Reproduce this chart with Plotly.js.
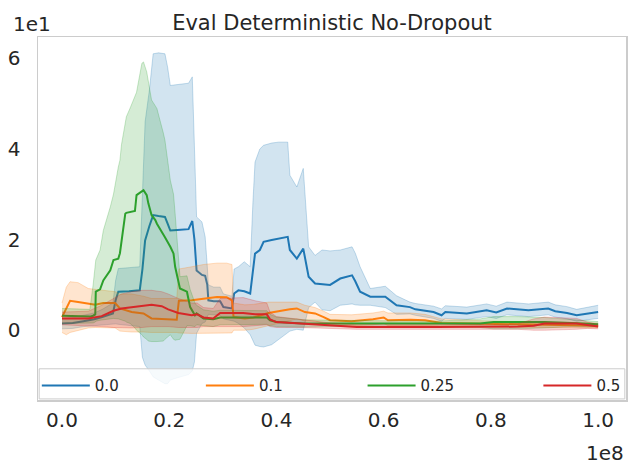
<!DOCTYPE html>
<html>
<head>
<meta charset="utf-8">
<script src="https://cdn.plot.ly/plotly-3.0.1.min.js"></script>
<style>
  body { margin: 0; background: #fff; }
  #chart { width: 635px; height: 474px; }
</style>
</head>
<body>
<div id="chart"></div>
<script>
// x in units of 1e8 steps, y in raw units (axis shows 1e1)
const stepsA = [0.000, 0.020, 0.040, 0.060, 0.075, 0.095, 0.100, 0.105, 0.125, 0.145,
	0.150, 0.155, 0.163, 0.170, 0.180, 0.192, 0.197, 0.202, 0.215, 0.236,
	0.243, 0.247, 0.251, 0.261, 0.267, 0.271, 0.273, 0.283, 0.295, 0.301,
	0.317, 0.321, 0.329, 0.340, 0.351, 0.356, 0.360, 0.369, 0.376, 0.391,
	0.404, 0.421, 0.425, 0.438, 0.450, 0.460, 0.472, 0.485, 0.500, 0.519,
	0.541, 0.547, 0.556, 0.575, 0.603, 0.624, 0.649, 0.659, 0.693, 0.708,
	0.715, 0.755, 0.792, 0.810, 0.830, 0.870, 0.907, 0.920, 0.942, 0.960,
	0.980, 1.000];
const meanA = [1.5, 1.6, 2.0, 2.4, 2.9, 3.7, 6.6, 8.5, 8.6, 8.8,
	13.5, 19.8, 23.0, 25.4, 25.2, 25.0, 23.5, 22.0, 22.1, 22.3,
	24.1, 20.0, 13.2, 12.2, 12.0, 10.0, 6.6, 6.4, 6.4, 5.1,
	4.8, 8.1, 8.8, 8.6, 8.1, 13.0, 16.9, 17.7, 19.5, 19.9,
	20.2, 20.6, 17.7, 15.8, 18.0, 11.8, 10.3, 10.2, 10.0, 11.4,
	12.1, 10.8, 8.5, 7.4, 7.4, 5.5, 5.1, 4.6, 4.0, 3.3,
	4.0, 3.7, 4.4, 3.9, 4.8, 4.4, 4.8, 4.2, 3.8, 3.3,
	3.6, 4.0];
const lowA = [0.3, 0.4, 0.8, 1.0, 1.2, 1.5, 1.4, 1.3, 1.1, 0.8,
	-6.0, -7.7, -9.0, -10.3, -11.0, -11.8, -11.8, -11.0, -10.5, -9.8,
	-9.0, -7.0, -0.7, 1.5, 1.8, 3.0, 3.5, 3.4, 3.3, 2.5,
	2.2, 2.0, 1.5, 0.5, -1.0, -2.5, -3.3, -3.6, -3.7, -3.2,
	-2.0, -0.5, -0.2, 0.2, 0.0, 5.0, 6.2, 4.5, 4.3, 5.5,
	5.8, 5.6, 5.5, 5.5, 5.0, 3.5, 3.6, 3.3, 2.6, 2.0,
	2.6, 2.4, 3.0, 2.6, 3.4, 3.0, 3.4, 2.9, 2.5, 2.0,
	2.3, 2.6];
const highA = [2.6, 2.8, 3.3, 3.8, 4.6, 6.0, 11.0, 13.6, 13.8, 14.0,
	30.0, 46.0, 53.0, 61.0, 61.2, 61.0, 58.0, 54.0, 54.2, 54.5,
	55.9, 40.0, 25.0, 23.9, 20.6, 14.0, 10.0, 9.5, 9.5, 8.0,
	7.5, 13.5, 14.0, 15.1, 14.0, 28.0, 37.1, 40.0, 40.8, 41.3,
	41.5, 41.5, 34.2, 31.6, 35.7, 18.4, 16.5, 17.7, 17.5, 17.7,
	18.4, 17.0, 14.0, 9.2, 9.7, 7.6, 6.2, 5.9, 5.3, 4.7,
	5.4, 5.1, 5.8, 5.3, 6.2, 5.8, 6.2, 5.6, 5.2, 4.6,
	5.0, 5.5];

const stepsB = [0.000, 0.008, 0.015, 0.030, 0.049, 0.062, 0.077, 0.095, 0.099, 0.108,
	0.130, 0.152, 0.167, 0.214, 0.218, 0.242, 0.264, 0.289, 0.307, 0.317,
	0.320, 0.341, 0.357, 0.385, 0.425, 0.438, 0.453, 0.472, 0.488, 0.500,
	0.540, 0.580, 0.600, 0.608, 0.650, 0.677, 0.708, 0.752, 0.800, 0.900,
	1.000];
const meanB = [2.9, 5.0, 6.5, 6.2, 5.9, 5.6, 6.0, 6.0, 6.0, 4.8,
	4.0, 3.7, 2.6, 2.3, 6.5, 6.6, 7.0, 7.35, 7.3, 6.6,
	2.9, 2.6, 2.8, 3.8, 4.6, 4.8, 4.0, 3.7, 2.9, 2.2,
	2.0, 2.4, 2.8, 2.2, 2.3, 2.2, 1.6, 1.5, 1.3, 1.2,
	1.0];
const lowB = [-0.5, -1.0, -0.5, 0.0, 0.5, 0.6, 0.5, 0.5, 0.5, -0.2,
	-0.4, -0.4, -0.5, -0.5, -0.6, -0.7, -0.7, -0.7, -0.7, -0.6,
	0.0, 0.0, 0.2, 1.0, 2.0, 2.5, 2.0, 2.0, 1.5, 1.0,
	1.0, 1.2, 1.5, 1.0, 1.0, 1.0, 0.8, 0.8, 0.7, 0.6,
	0.5];
const highB = [6.0, 9.5, 10.7, 10.5, 9.2, 9.0, 8.8, 8.6, 8.5, 8.0,
	8.0, 7.5, 7.0, 7.0, 13.5, 14.0, 14.5, 14.8, 14.8, 14.5,
	6.0, 5.6, 5.7, 6.2, 6.2, 6.2, 5.5, 5.0, 4.2, 3.5,
	3.4, 3.8, 4.2, 3.8, 3.8, 3.5, 2.5, 2.2, 2.0, 1.8,
	1.6];

const stepsC = [0.000, 0.030, 0.052, 0.058, 0.062, 0.063, 0.071, 0.077, 0.090, 0.096,
	0.105, 0.108, 0.111, 0.118, 0.120, 0.127, 0.136, 0.139, 0.149, 0.152,
	0.158, 0.161, 0.167, 0.174, 0.177, 0.189, 0.192, 0.202, 0.208, 0.211,
	0.220, 0.233, 0.239, 0.248, 0.251, 0.264, 0.282, 0.295, 0.345, 0.382,
	0.388, 0.400, 0.450, 0.500, 0.700, 0.780, 0.805, 0.850, 0.900, 0.950,
	1.000];
const meanC = [3.2, 3.0, 3.0, 3.2, 3.5, 8.5, 9.0, 11.0, 13.2, 15.5,
	15.8, 17.0, 19.9, 25.7, 25.9, 26.1, 26.3, 29.8, 30.5, 30.9,
	29.8, 28.0, 25.4, 24.3, 23.5, 21.3, 20.5, 18.4, 16.9, 14.0,
	9.2, 8.5, 5.1, 3.3, 3.7, 2.6, 2.4, 2.8, 2.8, 2.8,
	2.2, 1.8, 1.5, 1.5, 1.4, 1.5, 1.8, 1.8, 1.8, 1.6,
	1.3];
const lowC = [1.5, 1.5, 1.5, 1.6, 1.8, 2.0, 2.2, 2.3, 2.5, 2.6,
	2.5, 2.4, 2.2, 2.0, 1.8, 1.5, 0.5, 0.0, -1.0, -1.5,
	-2.0, -2.4, -2.5, -2.6, -2.5, -2.4, -2.0, -1.0, -2.0, -2.2,
	-2.0, 1.0, 1.0, 0.8, 1.2, 1.0, 0.8, 1.2, 1.3, 1.3,
	1.0, 0.8, 0.7, 0.8, 0.8, 0.6, 0.3, 0.3, 0.5, 0.8,
	0.7];
const highC = [4.8, 4.6, 4.6, 10.0, 14.7, 15.5, 17.7, 22.0, 27.2, 30.0,
	36.0, 37.5, 41.0, 46.0, 47.1, 49.0, 51.5, 52.5, 58.9, 59.2,
	57.0, 55.2, 50.8, 49.5, 48.9, 43.5, 41.9, 33.1, 30.0, 25.7,
	11.8, 12.0, 9.0, 6.0, 5.5, 4.5, 4.2, 4.4, 4.3, 4.3,
	3.5, 2.9, 2.3, 2.2, 2.0, 2.5, 3.0, 3.0, 2.8, 2.4,
	1.9];

const stepsD = [0.000, 0.049, 0.074, 0.096, 0.111, 0.130, 0.149, 0.167, 0.186, 0.198,
	0.217, 0.242, 0.252, 0.264, 0.282, 0.295, 0.338, 0.360, 0.382, 0.388,
	0.400, 0.444, 0.500, 0.550, 0.700, 0.850, 0.880, 0.900, 0.960, 0.980,
	1.000];
const meanD = [2.6, 2.6, 3.1, 4.3, 4.8, 5.1, 5.3, 5.6, 5.3, 4.6,
	3.8, 3.3, 3.5, 2.8, 2.6, 3.8, 3.8, 3.5, 3.5, 2.4,
	1.8, 1.5, 1.0, 0.7, 0.7, 0.8, 1.0, 1.5, 1.5, 1.1,
	0.8];
const lowD = [1.2, 1.0, 0.8, 0.6, 0.5, 0.5, 0.6, 0.8, 0.8, 0.8,
	0.6, 0.5, 0.6, 0.8, 0.8, 0.8, 0.8, 1.0, 1.2, 0.8,
	0.6, 0.6, 0.4, 0.2, 0.2, 0.2, 0.0, 0.0, 0.2, 0.4,
	0.3];
const highD = [4.0, 4.2, 5.5, 7.0, 8.0, 8.5, 8.8, 8.8, 8.5, 8.0,
	7.0, 6.0, 6.0, 5.0, 4.8, 7.0, 7.2, 6.5, 6.0, 4.0,
	3.0, 2.4, 1.6, 1.2, 1.2, 1.4, 2.5, 2.9, 2.6, 1.8,
	1.3];

const seriesNames = ["0.0", "0.1", "0.25", "0.5"];
const seriesColors = ["31,119,180", "255,127,14", "44,160,44", "214,39,40"];

const xTickVals = [0, 0.2, 0.4, 0.6, 0.8, 1.0];
const xTickText = ["0.0", "0.2", "0.4", "0.6", "0.8", "1.0"];
const yTickVals = [0, 20, 40, 60];
const yTickText = ["0", "2", "4", "6"];

const allSeries = [
	[stepsA, meanA, lowA, highA],
	[stepsB, meanB, lowB, highB],
	[stepsC, meanC, lowC, highC],
	[stepsD, meanD, lowD, highD]
];

// one legend per entry so the four entries spread across the box like matplotlib's expand mode
const legendIds = ["legend", "legend2", "legend3", "legend4"];
const legendX = [-0.002, 0.277, 0.552, 0.851];

const textColor = "#262626";
const frameColor = "#cccccc";

let data = [];
allSeries.forEach((s, i) => {
	let rgb = seriesColors[i];
	data.push({
		x: s[0], y: s[2], type: "scatter", mode: "lines",
		line: {color: "rgba(" + rgb + ",0.25)", width: 1},
		showlegend: false, hoverinfo: "skip"
	});
	data.push({
		x: s[0], y: s[3], type: "scatter", mode: "lines", fill: "tonexty",
		fillcolor: "rgba(" + rgb + ",0.2)",
		line: {color: "rgba(" + rgb + ",0.25)", width: 1},
		showlegend: false, hoverinfo: "skip"
	});
	data.push({
		x: s[0], y: s[1], type: "scatter", mode: "lines",
		name: seriesNames[i],
		legend: legendIds[i],
		line: {color: "rgb(" + rgb + ")", width: 2}
	});
});

let layout = {
	width: 635,
	height: 474,
	margin: {l: 38, r: 9, t: 37, b: 74},
	paper_bgcolor: "#ffffff",
	plot_bgcolor: "#ffffff",
	font: {family: "DejaVu Sans", color: textColor},
	title: {
		text: "Eval Deterministic No-Dropout",
		font: {size: 21, color: textColor},
		x: 0.5, xref: "paper", xanchor: "center",
		y: 1, yref: "paper", yanchor: "bottom",
		pad: {b: 7}
	},
	xaxis: {
		range: [-0.0448, 1.052],
		tickvals: xTickVals, ticktext: xTickText,
		ticks: "outside", ticklen: 1, tickcolor: "rgba(0,0,0,0)",
		tickfont: {size: 20, color: textColor},
		showgrid: false, zeroline: false,
		showline: true, mirror: true, linecolor: frameColor, linewidth: 1.5
	},
	yaxis: {
		range: [-15.4, 64.7],
		tickvals: yTickVals, ticktext: yTickText,
		ticks: "outside", ticklen: 12, tickcolor: "rgba(0,0,0,0)",
		tickfont: {size: 20, color: textColor},
		showgrid: false, zeroline: false,
		showline: true, mirror: true, linecolor: frameColor, linewidth: 1.5
	},
	shapes: [{
		type: "rect", layer: "above",
		xref: "paper", yref: "paper",
		x0: 0.002, x1: 0.998, y0: 0.003, y1: 0.086,
		fillcolor: "rgba(255,255,255,0.8)",
		line: {color: frameColor, width: 1}
	}],
	annotations: [
		{
			text: "1e1", showarrow: false,
			xref: "paper", yref: "paper", x: -0.046, y: 1,
			xanchor: "left", yanchor: "bottom", yshift: -1,
			font: {size: 20, color: textColor}
		},
		{
			text: "1e8", showarrow: false,
			xref: "paper", yref: "paper", x: 1, y: 0,
			xanchor: "right", yanchor: "top", yshift: -39,
			font: {size: 20, color: textColor}
		}
	]
};

legendIds.forEach((id, i) => {
	layout[id] = {
		orientation: "h",
		x: legendX[i], xanchor: "left",
		y: -0.006, yanchor: "bottom",
		bgcolor: "rgba(0,0,0,0)",
		borderwidth: 0,
		itemwidth: 48,
		font: {size: 15, color: textColor}
	};
});

Plotly.newPlot("chart", data, layout, {displayModeBar: false, staticPlot: true});
</script>
</body>
</html>
